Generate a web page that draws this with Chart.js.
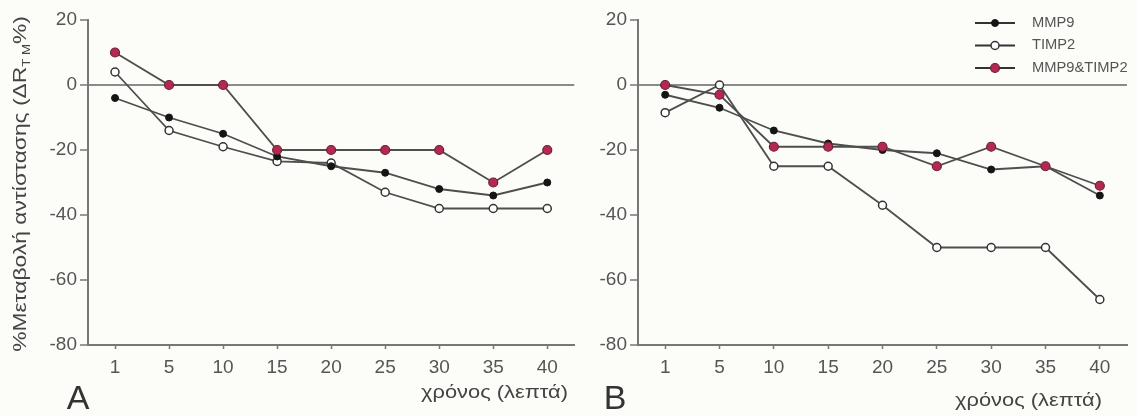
<!DOCTYPE html>
<html>
<head>
<meta charset="utf-8">
<script src="https://cdn.jsdelivr.net/npm/chart.js@4.4.1/dist/chart.umd.min.js"></script>
<style>
  html, body { margin: 0; padding: 0; background: #fcfcf8; }
  #wrap { position: relative; width: 1137px; height: 416px; }
  canvas { position: absolute; top: 0; }
</style>
</head>
<body>
<div id="wrap">
  <canvas id="chartA" width="580" height="416" style="left:0px"></canvas>
  <canvas id="chartB" width="557" height="416" style="left:580px"></canvas>
</div>
<script>
// time points (minutes)
const minutes = ['1', '5', '10', '15', '20', '25', '30', '35', '40'];
const yTickValues = [20, 0, -20, -40, -60, -80];

// panel A
const aMMP9 = [-4, -10, -15, -22, -25, -27, -32, -34, -30];
const aTIMP2 = [4, -14, -19, -23.5, -24, -33, -38, -38, -38];
const aBoth = [10, 0, 0, -20, -20, -20, -20, -30, -20];

// panel B
const bMMP9 = [-3, -7, -14, -18, -20, -21, -26, -25, -34];
const bTIMP2 = [-8.5, 0, -25, -25, -37, -50, -50, -50, -66];
const bBoth = [0, -3, -19, -19, -19, -25, -19, -25, -31];

const seriesNames = ['MMP9', 'TIMP2', 'MMP9&TIMP2'];
const yTitle = ['%Μεταβολή αντίστασης (ΔR', 'T M', '%)'];
const xTitle = 'χρόνος (λεπτά)';

const FONT = '"Liberation Sans", Arial, Helvetica, sans-serif';
const LINE = '#4e4e4e';
const AXIS = '#777';

function makeSets(mmp9, timp2, both) {
    return [
        { label: seriesNames[0], data: mmp9, borderColor: LINE, borderWidth: 1.8,
          pointRadius: 3.5, pointBackgroundColor: '#151515', pointBorderColor: '#151515',
          pointBorderWidth: 1, order: 1 },
        { label: seriesNames[1], data: timp2, borderColor: LINE, borderWidth: 1.8,
          pointRadius: 4, pointBackgroundColor: '#ffffff', pointBorderColor: '#333',
          pointBorderWidth: 1.5, order: 2 },
        { label: seriesNames[2], data: both, borderColor: LINE, borderWidth: 1.8,
          pointRadius: 4.5, pointBackgroundColor: '#b3294f', pointBorderColor: '#6b2235',
          pointBorderWidth: 1.2, order: 0 }
    ];
}

function scales(yWidth) {
    return {
        x: {
            type: 'category',
            offset: true,
            border: { color: AXIS, width: 2 },
            grid: { drawOnChartArea: false, offset: false, tickLength: 4, tickColor: AXIS, tickWidth: 1.5 },
            ticks: { color: '#555', font: { family: FONT, size: 19 }, padding: 7, maxRotation: 0, autoSkip: false },
            afterFit: s => { s.height = 71; }
        },
        y: {
            min: -80,
            max: 20,
            border: { color: AXIS, width: 2 },
            grid: {
                color: c => (c.tick && c.tick.value === 0) ? '#8a8a8a' : 'rgba(0,0,0,0)',
                lineWidth: 2,
                tickLength: 8,
                tickColor: AXIS,
                tickWidth: 1.5
            },
            ticks: { color: '#555', font: { family: FONT, size: 19 }, padding: 3 },
            afterBuildTicks: s => { s.ticks = yTickValues.map(v => ({ value: v })); },
            afterFit: s => { s.width = yWidth; }
        }
    };
}

// text that is a bit wider than the font, like the scanned figure
function wideText(ctx, text, x, y, sx, align) {
    ctx.save();
    ctx.translate(x, y);
    ctx.scale(sx, 1);
    ctx.textAlign = align;
    ctx.textBaseline = 'middle';
    ctx.fillText(text, 0, 0);
    ctx.restore();
}

// titles, panel letters and the legend
function decor(opts) {
    return {
        id: 'decor',
        afterDraw(chart) {
            const ctx = chart.ctx;
            ctx.save();

            // x title, right aligned
            ctx.fillStyle = '#444';
            ctx.font = '19px ' + FONT;
            wideText(ctx, xTitle, opts.xTitleRight, opts.xTitleY, 1.15, 'right');

            // panel letter
            ctx.fillStyle = '#333';
            ctx.font = '34px ' + FONT;
            wideText(ctx, opts.letter, opts.letterX, 400, 1, 'center');

            // rotated y title with subscript
            if (opts.yTitle) {
                ctx.save();
                ctx.fillStyle = '#444';
                ctx.translate(21, 184);
                ctx.rotate(-Math.PI / 2);
                ctx.scale(1.2, 1);
                ctx.textAlign = 'left';
                ctx.textBaseline = 'middle';
                const big = '19px ' + FONT, small = '11px ' + FONT;
                ctx.font = big;
                const w1 = ctx.measureText(yTitle[0]).width;
                const w3 = ctx.measureText(yTitle[2]).width;
                ctx.font = small;
                const w2 = ctx.measureText(yTitle[1]).width;
                let x = -(w1 + w2 + w3) / 2;
                ctx.font = big;
                ctx.fillText(yTitle[0], x, 0);
                x += w1;
                ctx.font = small;
                ctx.fillText(yTitle[1], x, 6);
                x += w2;
                ctx.font = big;
                ctx.fillText(yTitle[2], x, 0);
                ctx.restore();
            }

            if (opts.legend) {
                chart.data.datasets.forEach((ds, i) => {
                    const y = 23 + i * 22.5;
                    ctx.strokeStyle = '#333';
                    ctx.lineWidth = 1.8;
                    ctx.beginPath();
                    ctx.moveTo(395, y);
                    ctx.lineTo(435, y);
                    ctx.stroke();
                    ctx.beginPath();
                    ctx.arc(415, y, ds.pointRadius, 0, Math.PI * 2);
                    ctx.fillStyle = ds.pointBackgroundColor;
                    ctx.fill();
                    ctx.lineWidth = ds.pointBorderWidth;
                    ctx.strokeStyle = ds.pointBorderColor;
                    ctx.stroke();
                    ctx.fillStyle = '#555';
                    ctx.font = '14px ' + FONT;
                    wideText(ctx, ds.label, 452, y, 1.05, 'left');
                });
            }
            ctx.restore();
        }
    };
}

function build(id, sets, yWidth, padRight, deco) {
    return new Chart(document.getElementById(id), {
        type: 'line',
        data: { labels: minutes, datasets: sets },
        options: {
            responsive: false,
            animation: false,
            devicePixelRatio: 1,
            layout: { padding: { top: 20, right: padRight, left: 0, bottom: 0 } },
            scales: scales(yWidth),
            elements: { line: { tension: 0, fill: false } },
            plugins: { legend: { display: false }, tooltip: { enabled: false } }
        },
        plugins: [decor(deco)]
    });
}

build('chartA', makeSets(aMMP9, aTIMP2, aBoth), 88, 4,
      { letter: 'A', letterX: 78, xTitleRight: 568, xTitleY: 393, yTitle: true, legend: false });
build('chartB', makeSets(bMMP9, bTIMP2, bBoth), 58, 10,
      { letter: 'B', letterX: 35, xTitleRight: 522, xTitleY: 401, yTitle: false, legend: true });
</script>
</body>
</html>
